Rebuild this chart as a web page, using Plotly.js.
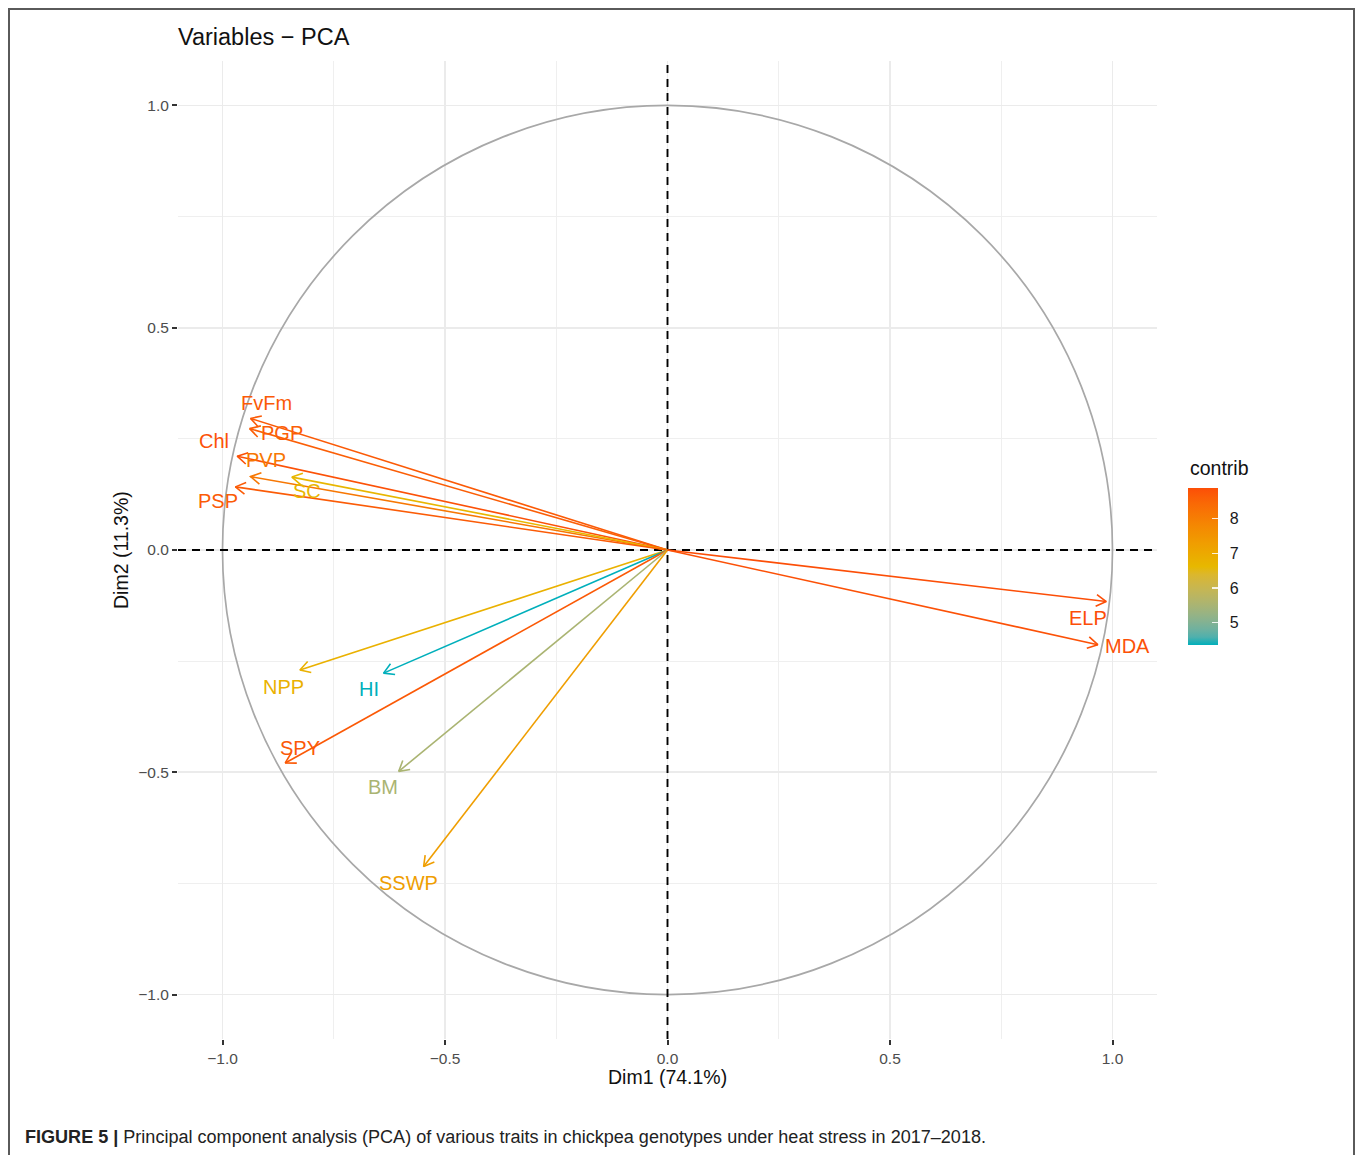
<!DOCTYPE html>
<html>
<head>
<meta charset="utf-8">
<script src="https://cdn.plot.ly/plotly-3.0.1.min.js"></script>
<style>
html,body{margin:0;padding:0;background:#fff;}
#frame{position:absolute;left:8px;top:8px;width:1347px;height:1160px;border:2px solid #5a5a5a;box-sizing:border-box;}
#chart{position:absolute;left:0;top:0;width:1360px;height:1155px;}
#caption{position:absolute;left:25px;top:1127px;white-space:nowrap;font-family:"Liberation Sans",Arial,sans-serif;font-size:18px;color:#222;transform-origin:0 0;}
</style>
</head>
<body>
<div id="frame"></div>
<div id="chart"></div>
<div id="caption"><b>FIGURE 5 |</b> Principal component analysis (PCA) of various traits in chickpea genotypes under heat stress in 2017–2018.</div>
<script>
// ---- data ----
const variables = ["FvFm","PGP","Chl","PVP","SC","PSP","NPP","HI","SPY","BM","SSWP","ELP","MDA"];
const dim1 = [-0.937,-0.939,-0.967,-0.937,-0.844,-0.971,-0.826,-0.638,-0.859,-0.604,-0.548,0.986,0.967];
const dim2 = [0.296,0.273,0.211,0.165,0.164,0.142,-0.270,-0.277,-0.479,-0.498,-0.712,-0.116,-0.213];
const contrib = [8.70,8.62,8.83,8.15,6.66,8.68,6.80,4.36,8.71,5.52,7.27,8.88,8.83];
const colorTicks = [5,6,7,8];
const axisTicks = [-1.0,-0.5,0.0,0.5,1.0];
const axisRange = [-1.1,1.1];

// ---- label placement (pixel offsets from arrow tip, like ggrepel output) ----
const labelDx = [16,32,-23,15,15,-17,-16,-15,15,-16,-15,-18,30];
const labelDy = [-15,4,-15,-17,14,14,17,16,-15,16,16,16,1];

const gradCols = ["#00AFBB","#E7B800","#FC4E07"];
const cmin = Math.min(...contrib), cmax = Math.max(...contrib);

// CIELAB interpolation (as ggplot's gradient does)
function hex2rgb(h){return [parseInt(h.slice(1,3),16),parseInt(h.slice(3,5),16),parseInt(h.slice(5,7),16)];}
function s2l(c){c/=255;return c<=0.04045?c/12.92:Math.pow((c+0.055)/1.055,2.4);}
function l2s(c){c=c<=0.0031308?12.92*c:1.055*Math.pow(c,1/2.4)-0.055;return Math.max(0,Math.min(255,Math.round(c*255)));}
const WX=0.95047,WY=1,WZ=1.08883;
function rgb2lab(rgb){
  const [r,g,b]=rgb.map(s2l);
  const X=(0.4124*r+0.3576*g+0.1805*b)/WX,Y=(0.2126*r+0.7152*g+0.0722*b)/WY,Z=(0.0193*r+0.1192*g+0.9505*b)/WZ;
  const f=t=>t>0.008856?Math.cbrt(t):7.787*t+16/116;
  const fx=f(X),fy=f(Y),fz=f(Z);
  return [116*fy-16,500*(fx-fy),200*(fy-fz)];
}
function lab2rgb(lab){
  const fy=(lab[0]+16)/116,fx=fy+lab[1]/500,fz=fy-lab[2]/200;
  const fi=t=>t*t*t>0.008856?t*t*t:(t-16/116)/7.787;
  const X=fi(fx)*WX,Y=fi(fy)*WY,Z=fi(fz)*WZ;
  const r=3.2406*X-1.5372*Y-0.4986*Z,g=-0.9689*X+1.8758*Y+0.0415*Z,b=0.0557*X-0.2040*Y+1.0570*Z;
  return [l2s(r),l2s(g),l2s(b)];
}
const labCols=gradCols.map(h=>rgb2lab(hex2rgb(h)));
function colorAtT(t){
  t=Math.max(0,Math.min(1,t));
  let a,b,f;
  if(t<=0.5){a=labCols[0];b=labCols[1];f=t/0.5;}else{a=labCols[1];b=labCols[2];f=(t-0.5)/0.5;}
  const c=lab2rgb(a.map((x,i)=>x+(b[i]-x)*f));
  return `rgb(${c[0]},${c[1]},${c[2]})`;
}
function colorFor(v){return colorAtT((v-cmin)/(cmax-cmin));}
const cscale=[];
for(let k=0;k<=20;k++){cscale.push([k/20,colorAtT(k/20)]);}

const traces=[];
const annotations=[];

// dashed reference lines through the origin (drawn under the arrows)
const dashLine={color:"#000",width:1.9,dash:"8px,6px"};
traces.push({type:"scatter",mode:"lines",x:[0,0],y:axisRange,line:dashLine,hoverinfo:"skip",showlegend:false});
traces.push({type:"scatter",mode:"lines",x:axisRange,y:[0,0],line:dashLine,hoverinfo:"skip",showlegend:false});

const headLen=0.026, headAng=Math.PI/6;
variables.forEach((name,i)=>{
  const tx=dim1[i], ty=dim2[i];
  const len=Math.hypot(tx,ty);
  const dx=-tx/len, dy=-ty/len;
  const r=(ang)=>[tx+headLen*(dx*Math.cos(ang)-dy*Math.sin(ang)), ty+headLen*(dx*Math.sin(ang)+dy*Math.cos(ang))];
  const h1=r(headAng), h2=r(-headAng);
  const col=colorFor(contrib[i]);
  traces.push({
    type:"scatter",mode:"lines",
    x:[0,tx,null,h1[0],tx,h2[0]],
    y:[0,ty,null,h1[1],ty,h2[1]],
    line:{color:col,width:1.6},
    hoverinfo:"skip",showlegend:false
  });
  annotations.push({
    x:tx,y:ty,xref:"x",yref:"y",text:name,showarrow:false,
    xshift:labelDx[i],yshift:-labelDy[i],
    font:{family:"Liberation Sans, Arial, sans-serif",size:20,color:col},
    xanchor:"center",yanchor:"middle"
  });
});

const cbX=(1188-178)/979, cbY=(1039-566.5)/978;
traces.push({
  type:"scatter",mode:"markers",x:[null],y:[null],
  marker:{color:[cmin],cmin:cmin,cmax:cmax,colorscale:cscale,showscale:true,
    colorbar:{x:cbX,xanchor:"left",y:cbY,yanchor:"middle",
      lenmode:"pixels",len:157,thicknessmode:"pixels",thickness:30,
      xpad:0,ypad:0,outlinewidth:0,
      tickvals:colorTicks,ticks:"outside",ticklen:9,tickcolor:"rgba(0,0,0,0)",
      tickfont:{family:"Liberation Sans, Arial, sans-serif",size:16,color:"#1a1a1a"}}
  },
  hoverinfo:"skip",showlegend:false
});
traces.push({
  type:"scatter",mode:"markers",x:[null],y:[null],
  marker:{color:[cmin],cmin:cmin,cmax:cmax,colorscale:cscale,showscale:true,
    colorbar:{x:cbX,xanchor:"left",y:cbY,yanchor:"middle",
      lenmode:"pixels",len:157,thicknessmode:"pixels",thickness:30,
      xpad:0,ypad:0,outlinewidth:0,
      tickvals:colorTicks,ticks:"inside",ticklen:6,tickcolor:"rgba(255,255,255,0.85)",tickwidth:1.3,
      showticklabels:false}
  },
  hoverinfo:"skip",showlegend:false
});

const tf="Liberation Sans, Arial, sans-serif";
annotations.push({
  xref:"paper",yref:"paper",x:cbX,y:(1039-468)/978,xanchor:"left",yanchor:"middle",
  text:"contrib",showarrow:false,font:{family:tf,size:19.5,color:"#111"}
});
annotations.push({
  xref:"paper",yref:"paper",x:(667.5-178)/979,y:(1039-1077)/978,xanchor:"center",yanchor:"middle",
  text:"Dim1 (74.1%)",showarrow:false,font:{family:tf,size:19.5,color:"#111"}
});
annotations.push({
  xref:"paper",yref:"paper",x:(121-178)/979,y:0.5,xanchor:"center",yanchor:"middle",textangle:-90,
  text:"Dim2 (11.3%)",showarrow:false,font:{family:tf,size:19.5,color:"#111"}
});

const axisCommon={
  range:axisRange,tickvals:axisTicks,tickformat:".1f",
  showgrid:true,gridcolor:"#EBEBEB",gridwidth:1.8,zeroline:false,showline:false,
  ticks:"outside",ticklen:5,tickwidth:2,tickcolor:"#333",
  tickfont:{family:tf,size:15.5,color:"#4D4D4D"},
  minor:{tickvals:[-0.75,-0.25,0.25,0.75],showgrid:true,gridcolor:"#EFEFEF",gridwidth:1.1,ticks:""},
  fixedrange:true
};

const layout={
  width:1360,height:1155,
  margin:{l:178,r:203,t:61,b:116},
  paper_bgcolor:"rgba(0,0,0,0)",plot_bgcolor:"#fff",
  title:{text:"Variables − PCA",x:0,xref:"paper",xanchor:"left",y:1-37/1155,yref:"container",yanchor:"middle",
    font:{family:tf,size:23.5,color:"#111"}},
  xaxis:Object.assign({},axisCommon),
  yaxis:Object.assign({},axisCommon),
  showlegend:false,
  shapes:[
    {type:"circle",xref:"x",yref:"y",x0:-1,y0:-1,x1:1,y1:1,line:{color:"#A8A8A8",width:1.7},layer:"between"}
  ],
  annotations:annotations
};

Plotly.newPlot("chart",traces,layout,{displayModeBar:false,staticPlot:true});

const cap=document.getElementById("caption");
const w=cap.getBoundingClientRect().width;
cap.style.transform="scaleX("+(961/w)+")";
</script>
</body>
</html>
